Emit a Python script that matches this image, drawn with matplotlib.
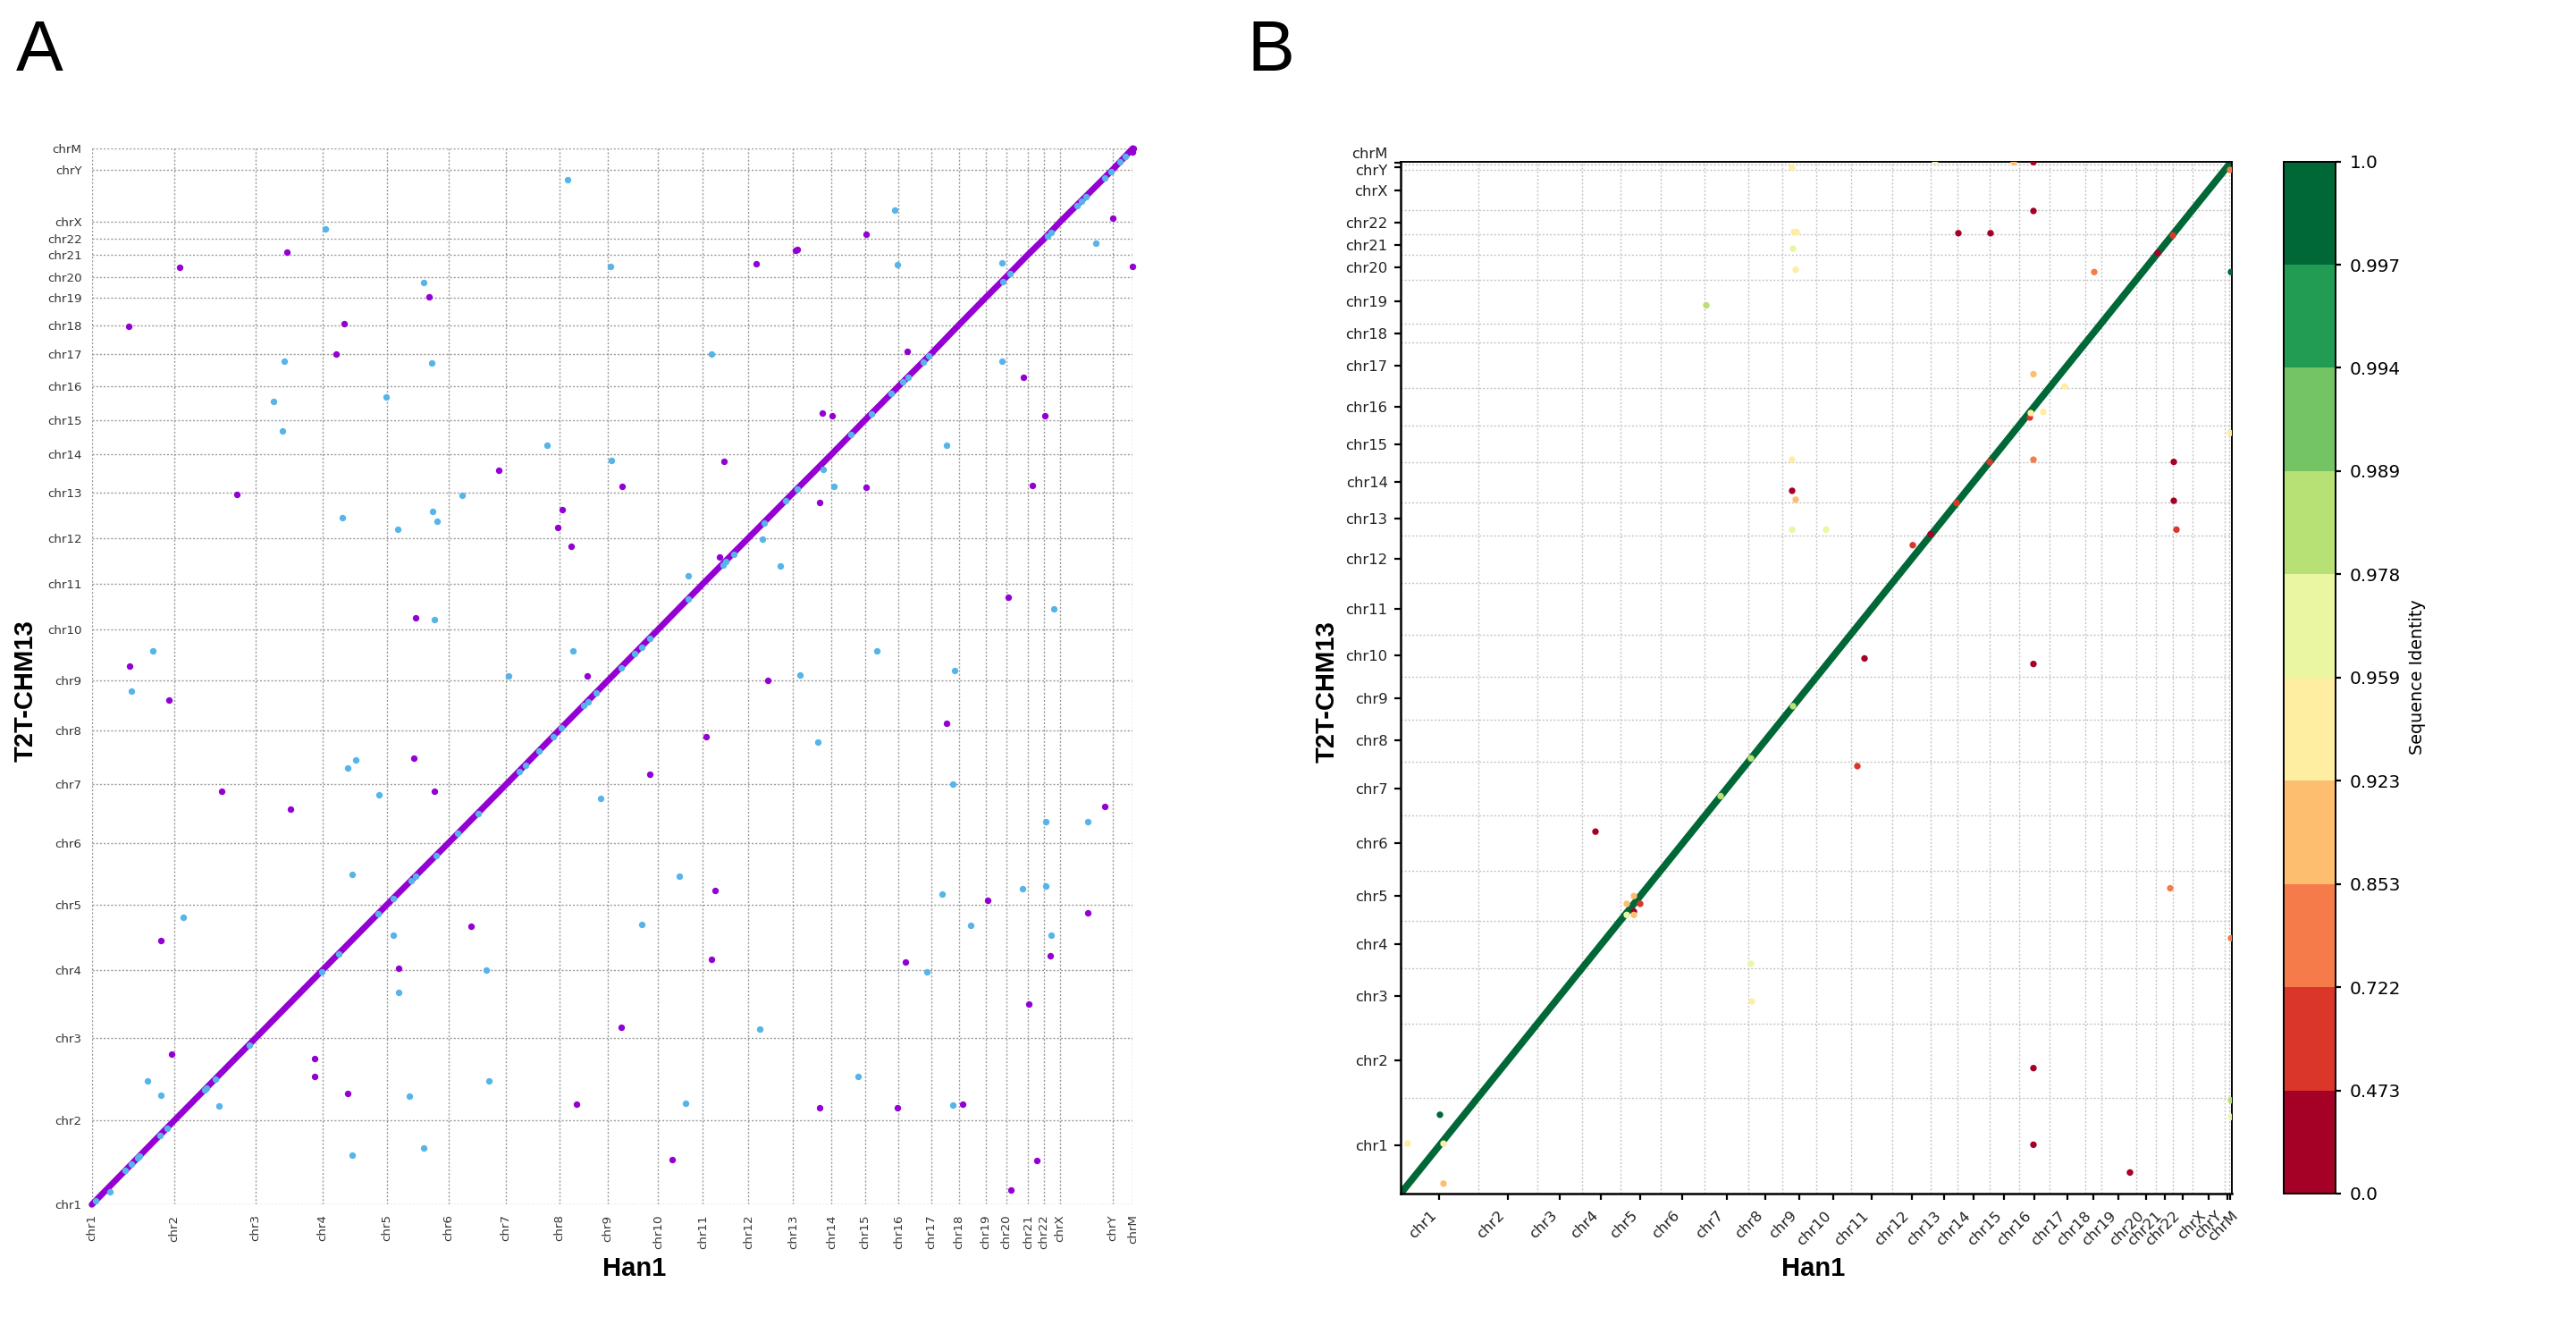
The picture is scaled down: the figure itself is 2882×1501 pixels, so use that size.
import numpy as np
import matplotlib
matplotlib.use("Agg")
import matplotlib.pyplot as plt
from matplotlib.colors import BoundaryNorm
from matplotlib.cm import ScalarMappable
from matplotlib.transforms import ScaledTranslation

chroms = ["chr%d" % i for i in range(1, 23)] + ["chrX", "chrY", "chrM"]

# chromosome lengths in Mb
chm13_len = [248.39, 242.70, 201.11, 193.57, 182.05, 172.13, 160.57, 146.26,
             150.62, 134.76, 135.09, 133.32, 113.57, 101.16, 99.75, 96.33,
             84.28, 80.54, 61.71, 66.21, 45.09, 51.32, 154.26, 62.46, 0.017]
han1_len = [247.0, 242.7, 200.7, 193.5, 184.0, 171.8, 159.0, 145.8, 150.4,
            133.8, 136.2, 133.8, 114.8, 100.3, 100.3, 97.9, 82.4, 80.0, 62.1,
            65.6, 46.8, 49.0, 157.3, 60.0, 0.017]

# panel A: off-diagonal hits, genome position in Mb (x = Han1, y = T2T-CHM13)
a_purple_x = [264, 585, 111, 755, 1010, 732, 434, 1219, 1587, 1409, 1393, 1434,
              968, 114, 230, 1482, 2317, 2105, 2110, 1989, 3055, 3115, 2441,
              2787, 2185, 2215, 2852, 1891, 2317, 2814, 2177, 2742, 1879, 2023,
              2558, 1839, 389, 594, 964, 1026, 208, 1134, 917, 239, 1585, 668,
              668, 766, 1450, 1669, 3031, 1866, 2681, 2981, 2435, 2867, 1854,
              2804, 2178, 2410, 2605, 1738, 2828, 2750, 3105, 3114, 3116]
a_purple_y = [2765, 2812, 2593, 2599, 2680, 2509, 2095, 2166, 2119, 2052, 1998,
              1943, 1733, 1589, 1488, 1560, 2863, 2816, 2819, 2777, 2910, 2769,
              2518, 2442, 2335, 2327, 2327, 2194, 2116, 2122, 2072, 1793, 1910,
              1548, 1421, 1380, 1219, 1167, 1318, 1219, 780, 821, 697, 444, 523,
              431, 377, 327, 296, 1271, 1174, 927, 898, 861, 717, 735, 724, 591,
              287, 285, 296, 134, 130, 44, 3110, 3106, 3116]
a_blue_x = [1423, 699, 1553, 994, 576, 1018, 544, 881, 571, 1361, 1554, 1107,
            750, 915, 1020, 1032, 1025, 183, 119, 1441, 1246, 2402, 3004, 2412,
            2723, 1854, 2723, 2558, 2190, 2220, 2007, 2060, 1784, 2879, 2350,
            2583, 2119, 2172, 766, 791, 859, 1524, 778, 274, 903, 919, 1181,
            167, 208, 381, 1189, 950, 778, 994, 2577, 2854, 2981, 1759, 1645,
            2545, 2786, 2854, 2630, 2871, 2499, 1999, 2294, 1777, 2577, 53]
a_blue_y = [3025, 2880, 2769, 2720, 2488, 2483, 2369, 2383, 2282, 2240, 2196,
            2092, 2028, 1993, 2045, 2018, 1726, 1633, 1516, 1635, 1561, 2934,
            2836, 2773, 2779, 2509, 2488, 2240, 2171, 2119, 1963, 1884, 1857,
            1758, 1635, 1575, 1564, 1366, 1289, 1313, 1210, 1200, 974, 849, 795,
            627, 693, 365, 323, 290, 365, 320, 147, 167, 1240, 1131, 1131, 968,
            827, 917, 931, 939, 823, 794, 686, 518, 379, 300, 293, 38]
# blue hits lying on the collinear diagonal (same Mb on both genomes)
a_blue_diag = [12, 101, 119, 137, 143, 203, 225, 338, 343, 370, 471, 688, 740,
               858, 902, 955, 968, 1030, 1095, 1155, 1278, 1297, 1339, 1381,
               1406, 1472, 1484, 1510, 1585, 1625, 1645, 1670, 1786, 1888, 1898,
               1920, 2011, 2077, 2111, 2272, 2333, 2393, 2428, 2442, 2487, 2504,
               2725, 2748, 2859, 2870, 2947, 2962, 2975, 3031, 3049, 3078, 3092]

# panel B: relative width of each chromosome on its axes
b_span = [86.5, 66.3, 49.8, 43.4, 44.6, 49.7, 48.5, 38.2, 38.3, 38.3, 46.6,
          42.7, 29.9, 35.8, 33.1, 33.9, 40.8, 17.2, 39.5, 22.3, 18.6, 21.6,
          36.4, 5.0, 2.6]
b_x = [438, 440, 443, 439, 442, 342, 624, 660, 438, 438, 442, 438, 476, 573,
       519, 598, 686, 708, 708, 776, 929, 708, 743, 719, 704, 705, 928, 708,
       865, 865, 868, 708, 593, 622, 659, 847, 864, 928, 218, 511, 261, 253,
       268, 261, 261, 253, 392, 393, 44, 8, 48, 48, 861, 929, 708, 708, 816,
       929, 929, 439, 392, 358]
b_y = [924, 866, 866, 851, 832, 800, 865, 865, 661, 633, 625, 598, 598, 584,
       482, 930, 929, 929, 885, 830, 830, 738, 727, 704, 699, 703, 685, 661,
       659, 624, 598, 477, 594, 622, 659, 847, 863, 922, 326, 385, 268, 261,
       261, 254, 251, 251, 207, 173, 71, 45, 45, 9, 275, 230, 113, 44, 19, 84,
       69, 439, 392, 358]
b_identity = [0.94, 0.94, 0.94, 0.97, 0.94, 0.985, 0.3, 0.3, 0.94, 0.3, 0.89,
              0.965, 0.965, 0.6, 0.3, 0.97, 0.9, 0.3, 0.3, 0.8, 0.999, 0.89,
              0.94, 0.94, 0.6, 0.95, 0.94, 0.8, 0.3, 0.3, 0.6, 0.3, 0.3, 0.6,
              0.6, 0.3, 0.6, 0.8, 0.3, 0.6, 0.89, 0.88, 0.6, 0.3, 0.88, 0.97,
              0.97, 0.94, 0.999, 0.94, 0.94, 0.89, 0.8, 0.8, 0.3, 0.3, 0.3,
              0.985, 0.97, 0.985, 0.985, 0.985]
identity_bounds = [0.0, 0.473, 0.722, 0.853, 0.923, 0.959, 0.978, 0.989,
                   0.994, 0.997, 1.0]

PURPLE = "#9400D3"
BLUE = "#56B4E9"
W, H, DPI = 2882, 1501, 200
fig = plt.figure(figsize=(W / DPI, H / DPI), dpi=DPI)


def starts(lengths):
    return np.concatenate([[0], np.cumsum(lengths)[:-1]])


def nudge(label, dx, dy):
    # shift a tick label by (dx, dy) points
    label.set_transform(label.get_transform()
                        + ScaledTranslation(dx / 72, dy / 72, fig.dpi_scale_trans))


# ---------------- panel A
ax = fig.add_axes([102.7 / W, 1 - 1347.3 / H, 1164.7 / W, 1181.4 / H])
xs, ys = starts(han1_len), starts(chm13_len)
ax.plot(np.append(xs, sum(han1_len)), np.append(ys, sum(chm13_len)),
        color=PURPLE, lw=2.5, solid_capstyle="round", zorder=2, clip_on=False)
ax.scatter(a_purple_x, a_purple_y, s=7, color=PURPLE, lw=0, zorder=3, clip_on=False)
ax.scatter(a_blue_x, a_blue_y, s=7, color=BLUE, lw=0, zorder=3, clip_on=False)
ax.scatter(a_blue_diag, a_blue_diag, s=7, color=BLUE, lw=0, zorder=4)
ax.set_xlim(0, sum(han1_len))
ax.set_ylim(0, sum(chm13_len))
ax.set_xticks(xs, chroms, rotation=90)
ax.set_yticks(ys, chroms)
ax.tick_params(length=0, pad=4, labelsize=4.8, labelcolor="#333333")
ax.grid(True, color="#9a9a9a", lw=0.5, ls=(0, (1.5, 1.5)))
ax.set_axisbelow(True)
for s in ax.spines.values():
    s.set_visible(False)

# ---------------- panel B
cmap = plt.get_cmap("RdYlGn", 10)
norm = BoundaryNorm(identity_bounds, 10)
axb = fig.add_axes([1567 / W, 1 - 1335 / H, 929.6 / W, 1154.4 / H])
bb = np.concatenate([[0], np.cumsum(b_span)])
centers = (bb[:-1] + bb[1:]) / 2
axb.plot(bb, bb, color=cmap(norm(0.999)), lw=2.8, solid_capstyle="round", zorder=2)
axb.scatter(b_x, b_y, c=b_identity, cmap=cmap, norm=norm, s=7, lw=0, zorder=3)
axb.set_xlim(0, bb[-1])
axb.set_ylim(0, bb[-1])
axb.set_xticks(centers, chroms, rotation=45, ha="right")
axb.set_yticks(centers, chroms)
axb.set_xticks(bb, minor=True)
axb.set_yticks(bb, minor=True)
axb.grid(True, which="minor", color="#c4c4c4", lw=0.5, ls=(0, (1.5, 1.5)))
axb.set_axisbelow(True)
axb.tick_params(which="major", length=2.6, width=0.8, labelsize=5.9, labelcolor="#222222")
axb.tick_params(axis="y", which="major", pad=2.6)
axb.tick_params(axis="x", which="major", pad=3.5)
axb.tick_params(which="minor", length=0)
for side, s in axb.spines.items():
    s.set_linewidth(0.9 if side in ("left", "bottom") else 0.7)
# keep chrY / chrM labels apart
ylabs = axb.get_yticklabels()
nudge(ylabs[-1], 0, 4)
nudge(ylabs[-2], 0, -1.2)
xlabs = axb.get_xticklabels()
nudge(xlabs[-1], 4, 0)
nudge(xlabs[-2], -0.8, 0)

cax = fig.add_axes([2555 / W, 1 - 1335 / H, 58 / W, 1154.4 / H])
cb = fig.colorbar(ScalarMappable(norm=norm, cmap=cmap), cax=cax, ticks=identity_bounds)
cb.ax.set_yticklabels([str(v) for v in identity_bounds])
cb.ax.tick_params(length=2.2, width=0.8, pad=3.6, labelsize=7.2)
cb.outline.set_linewidth(0.7)
fig.text(2704 / W, 1 - 757 / H, "Sequence Identity", rotation=90,
         ha="center", va="center", fontsize=6.9)

# ---------------- labels
bold = dict(fontsize=10.5, fontweight="bold", family="Liberation Sans")
fig.text(710 / W, 1 - 1426.7 / H, "Han1", ha="center", va="baseline", **bold)
fig.text(2029 / W, 1 - 1426.7 / H, "Han1", ha="center", va="baseline", **bold)
fig.text(36.5 / W, 1 - 772.5 / H, "T2T-CHM13", rotation=90, rotation_mode="anchor",
         ha="center", va="baseline", **bold)
fig.text(1493 / W, 1 - 773.5 / H, "T2T-CHM13", rotation=90, rotation_mode="anchor",
         ha="center", va="baseline", **bold)
fig.text(18 / W, 1 - 79 / H, "A", fontsize=28.5, family="Liberation Sans", va="baseline")
fig.text(1395 / W, 1 - 79 / H, "B", fontsize=28.5, family="Liberation Sans", va="baseline")

fig.savefig("out.png", dpi=DPI)
